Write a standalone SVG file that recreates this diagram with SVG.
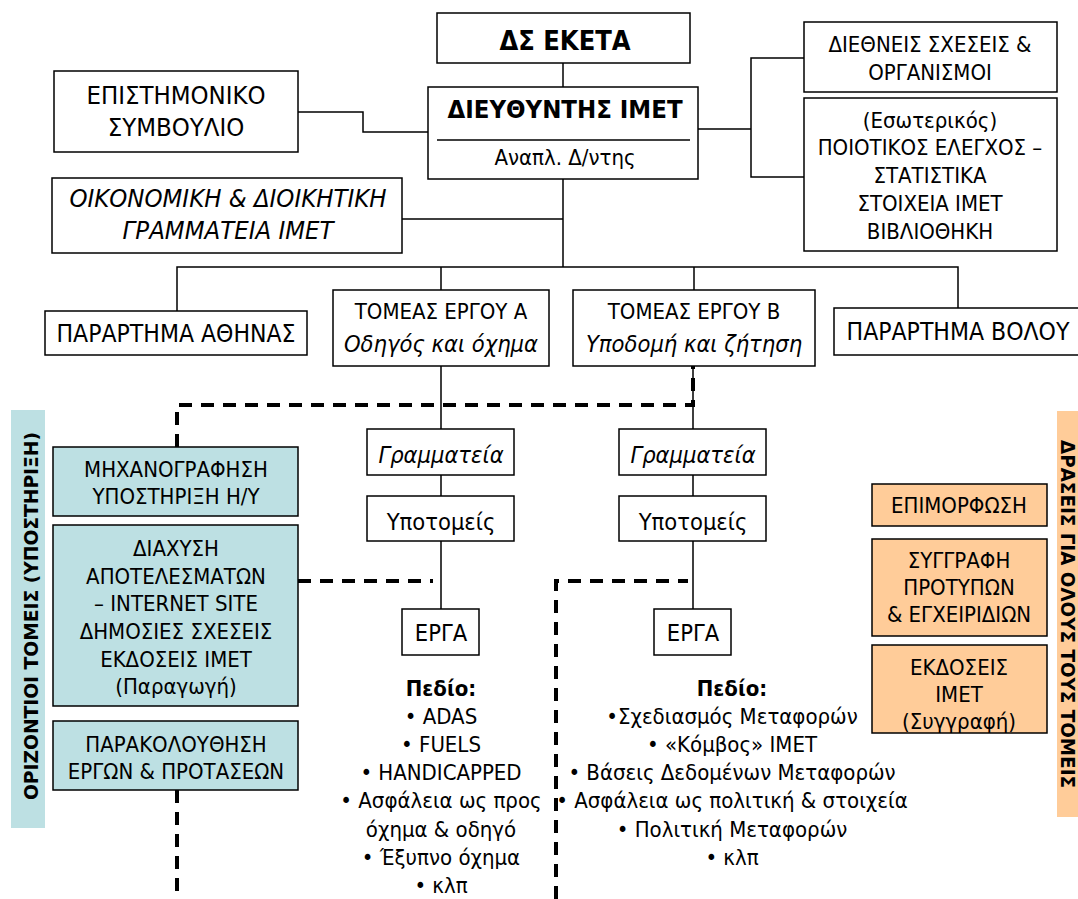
<svg xmlns="http://www.w3.org/2000/svg" width="1078" height="899" viewBox="0 0 1078 899">
<style>
text{font-family:"DejaVu Sans Condensed","DejaVu Sans",sans-serif;font-stretch:condensed;fill:#000;text-anchor:middle}
.b{fill:#fff;stroke:#000;stroke-width:1.5}
.bl{fill:#BDE0E3;stroke:#000;stroke-width:1.5}
.or{fill:#FFCC99;stroke:#000;stroke-width:1.5}
.t25{font-size:25.5px}
.t24{font-size:24.5px}
.t23{font-size:23.5px}
.t22{font-size:22px}
.it{font-style:italic}
.bd{font-weight:bold}
.ln{fill:none;stroke:#000;stroke-width:1.5}
.ds{fill:none;stroke:#000;stroke-width:4;stroke-dasharray:13 9}
.side{font-family:"DejaVu Sans",sans-serif;font-stretch:normal;font-weight:bold;font-size:18.5px}
</style>
<rect x="11" y="410" width="34" height="418" fill="#BDE0E3"/>
<rect x="1057" y="411" width="25" height="406" fill="#FFCC99"/>
<text class="side" transform="translate(38,616) rotate(-90)" textLength="368" lengthAdjust="spacingAndGlyphs">ΟΡΙΖΟΝΤΙΟΙ ΤΟΜΕΙΣ (ΥΠΟΣΤΗΡΙΞΗ)</text>
<text class="side" transform="translate(1061,614) rotate(90)" textLength="348" lengthAdjust="spacingAndGlyphs">ΔΡΑΣΕΙΣ ΓΙΑ ΟΛΟΥΣ ΤΟΥΣ ΤΟΜΕΙΣ</text>
<g id="connectors">
<path class="ln" d="M563,62 V87"/>
<path class="ln" d="M298,112 H363 V132 H428"/>
<path class="ln" d="M698,129 H751 M804,58 H751 V177 H804"/>
<path class="ln" d="M402,219 H563 M563,179 V267 M177,311 V267 H958 V308 M441,267 V290 M694,267 V290"/>
<path class="ln" d="M441,366 V429 M441,475 V496 M441,541 V609"/>
<path class="ln" d="M693,366 V429 M693,475 V496 M693,541 V609"/>
<path class="ds" d="M177,447 V405 H693 V366"/>
<path class="ds" d="M177,790 V899"/>
<path class="ds" d="M298,581 H433"/>
<path class="ds" d="M556,899 V581 H688"/>
</g>
<g id="dsekepa"><rect class="b" x="437" y="13" width="253" height="50"/><text class="bd" x="565" y="50" font-size="27">ΔΣ ΕΚΕΤΑ</text></g>
<g id="epistimoniko"><rect class="b" x="54" y="71" width="244" height="81"/><text class="t25" x="176" y="104">ΕΠΙΣΤΗΜΟΝΙΚΟ</text><text class="t25" x="176" y="136">ΣΥΜΒΟΥΛΙΟ</text></g>
<g id="dieythyntis"><rect class="b" x="428" y="87" width="270" height="92"/><text class="bd" x="565" y="118" font-size="25.5">ΔΙΕΥΘΥΝΤΗΣ ΙΜΕΤ</text><path class="ln" d="M437,140 H690"/><text class="t22" x="565" y="165">Αναπλ. Δ/ντης</text></g>
<g id="oikonomiki"><rect class="b" x="52" y="178" width="350" height="75"/><text class="t25 it" x="228" y="207">ΟΙΚΟΝΟΜΙΚΗ &amp; ΔΙΟΙΚΗΤΙΚΗ</text><text class="t25 it" x="228" y="239">ΓΡΑΜΜΑΤΕΙΑ ΙΜΕΤ</text></g>
<g id="diethneis"><rect class="b" x="804" y="22" width="253" height="70"/><text class="t22" x="930" y="52">ΔΙΕΘΝΕΙΣ ΣΧΕΣΕΙΣ &amp;</text><text class="t22" x="930" y="80">ΟΡΓΑΝΙΣΜΟΙ</text></g>
<g id="poiotikos"><rect class="b" x="804" y="98" width="253" height="153"/><text class="t22" x="930" y="128">(Εσωτερικός)</text><text class="t22" x="930" y="155">ΠΟΙΟΤΙΚΟΣ ΕΛΕΓΧΟΣ –</text><text class="t22" x="930" y="183">ΣΤΑΤΙΣΤΙΚΑ</text><text class="t22" x="930" y="211">ΣΤΟΙΧΕΙΑ ΙΜΕΤ</text><text class="t22" x="930" y="239">ΒΙΒΛΙΟΘΗΚΗ</text></g>
<g id="athina"><rect class="b" x="45" y="311" width="262" height="44"/><text class="t24" x="176" y="342">ΠΑΡΑΡΤΗΜΑ ΑΘΗΝΑΣ</text></g>
<g id="tomeasA"><rect class="b" x="333" y="290" width="216" height="76"/><text class="t22" x="441" y="319">ΤΟΜΕΑΣ ΕΡΓΟΥ Α</text><text class="t23 it" x="441" y="352">Οδηγός και όχημα</text></g>
<g id="tomeasB"><rect class="b" x="573" y="290" width="242" height="76"/><text class="t22" x="694" y="319">ΤΟΜΕΑΣ ΕΡΓΟΥ Β</text><text class="t23 it" x="694" y="352">Υποδομή και ζήτηση</text></g>
<g id="volos"><rect class="b" x="834" y="308" width="250" height="47"/><text class="t24" x="958" y="340">ΠΑΡΑΡΤΗΜΑ ΒΟΛΟΥ</text></g>
<g id="grammA"><rect class="b" x="367" y="429" width="147" height="46"/><text class="t23 it" x="441" y="463">Γραμματεία</text></g>
<g id="ypotA"><rect class="b" x="367" y="496" width="147" height="45"/><text class="t23" x="441" y="530">Υποτομείς</text></g>
<g id="ergaA"><rect class="b" x="402" y="609" width="77" height="46"/><text class="t23" x="441" y="641">ΕΡΓΑ</text></g>
<g id="grammB"><rect class="b" x="619" y="429" width="147" height="46"/><text class="t23 it" x="693" y="463">Γραμματεία</text></g>
<g id="ypotB"><rect class="b" x="619" y="496" width="147" height="45"/><text class="t23" x="693" y="530">Υποτομείς</text></g>
<g id="ergaB"><rect class="b" x="654" y="609" width="77" height="46"/><text class="t23" x="693" y="641">ΕΡΓΑ</text></g>
<g id="pedioA"><text class="t22 bd" x="441" y="696">Πεδίο:</text><text class="t22" x="441" y="724">• ADAS</text><text class="t22" x="441" y="752">• FUELS</text><text class="t22" x="441" y="780">• HANDICAPPED</text><text class="t22" x="441" y="808">• Ασφάλεια ως προς</text><text class="t22" x="441" y="837">όχημα &amp; οδηγό</text><text class="t22" x="441" y="865">• Έξυπνο όχημα</text><text class="t22" x="441" y="893">• κλπ</text></g>
<g id="pedioB"><text class="t22 bd" x="732" y="696">Πεδίο:</text><text class="t22" x="732" y="724">•Σχεδιασμός Μεταφορών</text><text class="t22" x="732" y="752">• «Κόμβος» ΙΜΕΤ</text><text class="t22" x="732" y="780">• Βάσεις Δεδομένων Μεταφορών</text><text class="t22" x="732" y="808">• Ασφάλεια ως πολιτική &amp; στοιχεία</text><text class="t22" x="732" y="837">• Πολιτική Μεταφορών</text><text class="t22" x="732" y="865">• κλπ</text></g>
<g id="mixanografisi"><rect class="bl" x="53" y="447" width="245" height="69"/><text class="t22" x="176" y="477">ΜΗΧΑΝΟΓΡΑΦΗΣΗ</text><text class="t22" x="176" y="504">ΥΠΟΣΤΗΡΙΞΗ Η/Υ</text></g>
<g id="diaxysi"><rect class="bl" x="53" y="525" width="245" height="181"/><text class="t22" x="176" y="556">ΔΙΑΧΥΣΗ</text><text class="t22" x="176" y="584">ΑΠΟΤΕΛΕΣΜΑΤΩΝ</text><text class="t22" x="176" y="611">– INTERNET SITE</text><text class="t22" x="176" y="639">ΔΗΜΟΣΙΕΣ ΣΧΕΣΕΙΣ</text><text class="t22" x="176" y="667">ΕΚΔΟΣΕΙΣ ΙΜΕΤ</text><text class="t22" x="176" y="694">(Παραγωγή)</text></g>
<g id="parakolouthisi"><rect class="bl" x="53" y="721" width="245" height="69"/><text class="t22" x="176" y="752">ΠΑΡΑΚΟΛΟΥΘΗΣΗ</text><text class="t22" x="176" y="779">ΕΡΓΩΝ &amp; ΠΡΟΤΑΣΕΩΝ</text></g>
<g id="epimorfosi"><rect class="or" x="872" y="484" width="175" height="42"/><text class="t22" x="959" y="513">ΕΠΙΜΟΡΦΩΣΗ</text></g>
<g id="syggrafi"><rect class="or" x="872" y="539" width="175" height="97"/><text class="t22" x="959" y="568">ΣΥΓΓΡΑΦΗ</text><text class="t22" x="959" y="595">ΠΡΟΤΥΠΩΝ</text><text class="t22" x="959" y="622">&amp; ΕΓΧΕΙΡΙΔΙΩΝ</text></g>
<g id="ekdoseis"><rect class="or" x="872" y="645" width="175" height="88"/><text class="t22" x="959" y="675">ΕΚΔΟΣΕΙΣ</text><text class="t22" x="959" y="702">ΙΜΕΤ</text><text class="t22" x="959" y="729">(Συγγραφή)</text></g>
</svg>
